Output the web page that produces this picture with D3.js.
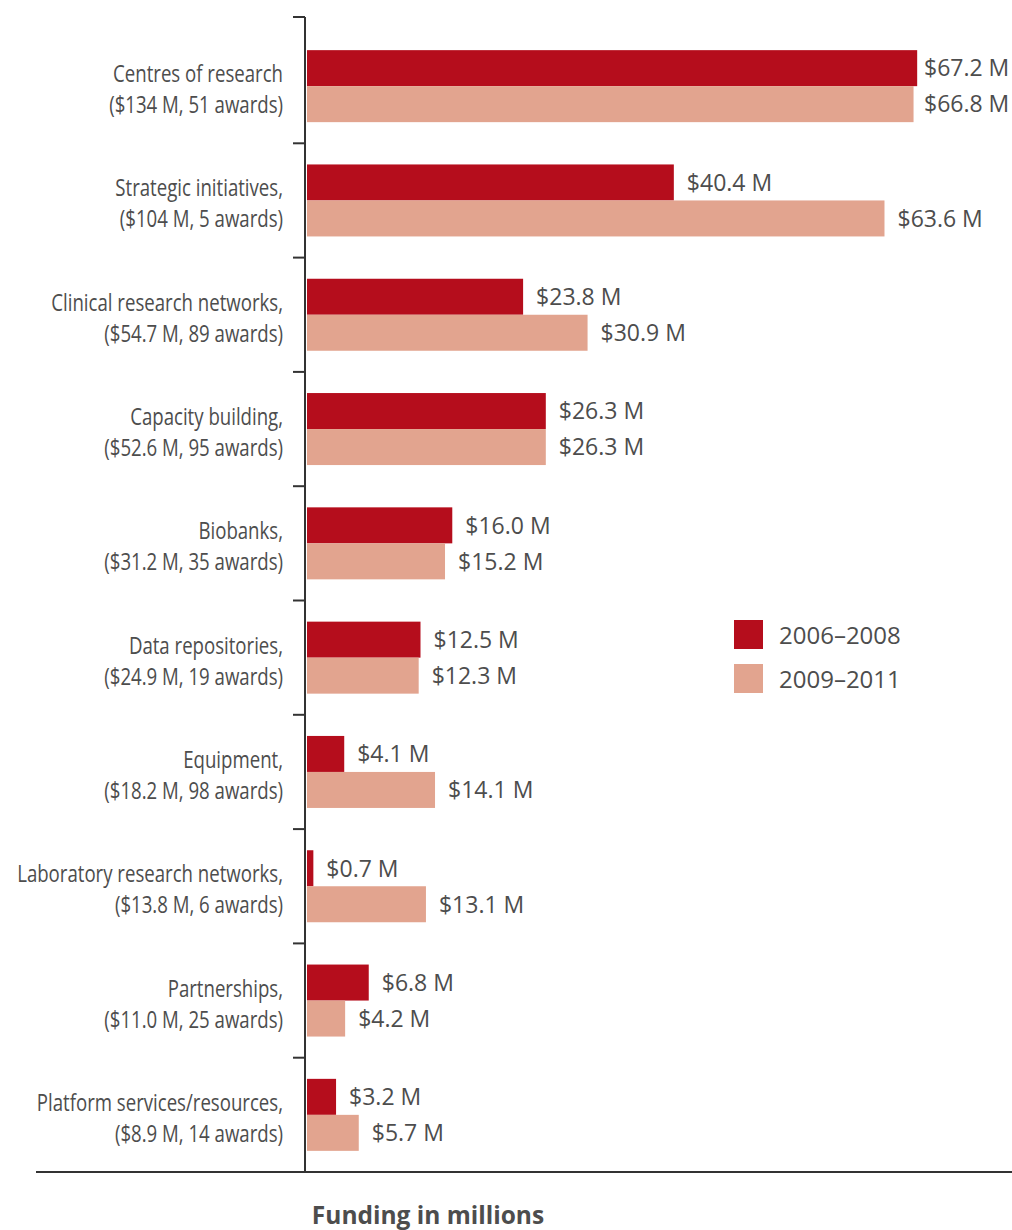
<!DOCTYPE html>
<html>
<head>
<meta charset="utf-8">
<script src="https://cdn.jsdelivr.net/npm/d3@7"></script>
<style>
  body { margin: 0; background: #fff; }
  .cat { font-family: "Open Sans", sans-serif; font-size: 23px; fill: #4d4d4d; }
  .val { font-family: "Open Sans", sans-serif; font-size: 23px; fill: #4d4d4d; }
  .leg { font-family: "Open Sans", sans-serif; font-size: 24px; fill: #4d4d4d; }
  .xtitle { font-family: "Open Sans", sans-serif; font-size: 24.5px; font-weight: bold; fill: #4d4d4d; }
</style>
</head>
<body>
<script>
var svg_Width = 1012;
var svg_Height = 1230;

// categories (two text lines each)
var categories = ["Centres of research", "Strategic initiatives,", "Clinical research networks,",
  "Capacity building,", "Biobanks,", "Data repositories,", "Equipment,",
  "Laboratory research networks,", "Partnerships,", "Platform services/resources,"];
var subLabels = ["($134 M, 51 awards)", "($104 M, 5 awards)", "($54.7 M, 89 awards)",
  "($52.6 M, 95 awards)", "($31.2 M, 35 awards)", "($24.9 M, 19 awards)", "($18.2 M, 98 awards)",
  "($13.8 M, 6 awards)", "($11.0 M, 25 awards)", "($8.9 M, 14 awards)"];

// series values, millions
var series = ["2006–2008", "2009–2011"];
var values0608 = [67.2, 40.4, 23.8, 26.3, 16.0, 12.5, 4.1, 0.7, 6.8, 3.2];
var values0911 = [66.8, 63.6, 30.9, 26.3, 15.2, 12.3, 14.1, 13.1, 4.2, 5.7];
var colors = ["#b50d1c", "#e2a48f"];

var margin = { top: 29, left: 307, bottom: 1172 };

var svg = d3.select("body")
  .append("svg")
  .attr("width", svg_Width)
  .attr("height", svg_Height);

// scales
var xScale = d3.scaleLinear()
  .domain([0, 70])
  .range([margin.left, margin.left + 70 * 9.08]);

var yScale = d3.scaleBand()
  .domain(categories)
  .range([margin.top, margin.bottom]);

var barH = 36;
var subScale = d3.scaleBand()
  .domain(series)
  .range([0, barH * 2]);

var rows = categories.map(function (c, i) {
  return { cat: c, sub: subLabels[i], vals: [values0608[i], values0911[i]] };
});

// bars
var groups = svg.selectAll("g.row")
  .data(rows)
  .enter()
  .append("g")
  .attr("class", "row")
  .attr("transform", d => `translate(0, ${yScale(d.cat) + yScale.step() / 2 - barH})`);

groups.selectAll("rect")
  .data(d => d.vals.map((v, j) => ({ v: v, s: series[j], j: j })))
  .enter()
  .append("rect")
  .attr("x", xScale(0))
  .attr("y", d => subScale(d.s))
  .attr("width", d => xScale(d.v) - xScale(0))
  .attr("height", subScale.bandwidth())
  .attr("fill", d => colors[d.j]);

// value labels
groups.selectAll("text.val")
  .data(d => d.vals.map((v, j) => ({ v: v, s: series[j] })))
  .enter()
  .append("text")
  .attr("class", "val")
  .attr("x", d => Math.min(xScale(d.v) + 13, svg_Width - 88))
  .attr("y", d => subScale(d.s) + subScale.bandwidth() / 2)
  .attr("dy", "0.36em")
  .text(d => "$" + d.v.toFixed(1) + " M");

// category labels, horizontally condensed
var labelX = 283;
var labels = svg.append("g")
  .attr("transform", `translate(${labelX}, 0) scale(0.81, 1)`)
  .selectAll("text.cat")
  .data(rows)
  .enter()
  .append("text")
  .attr("class", "cat")
  .attr("text-anchor", "end");

labels.append("tspan")
  .attr("x", 0)
  .attr("y", d => yScale(d.cat) + yScale.step() / 2 - 4)
  .text(d => d.cat);
labels.append("tspan")
  .attr("x", 0)
  .attr("y", d => yScale(d.cat) + yScale.step() / 2 + 27)
  .text(d => d.sub);

// y axis line with ticks between categories
var axisX = margin.left - 2;
svg.append("line")
  .attr("x1", axisX).attr("x2", axisX)
  .attr("y1", 17).attr("y2", margin.bottom)
  .attr("stroke", "#333").attr("stroke-width", 2);

svg.append("line")
  .attr("x1", axisX - 12).attr("x2", axisX)
  .attr("y1", 17).attr("y2", 17)
  .attr("stroke", "#333").attr("stroke-width", 2);

svg.selectAll("line.tick")
  .data(categories.slice(1))
  .enter()
  .append("line")
  .attr("class", "tick")
  .attr("x1", axisX - 12).attr("x2", axisX)
  .attr("y1", d => yScale(d)).attr("y2", d => yScale(d))
  .attr("stroke", "#333").attr("stroke-width", 2);

// x axis baseline
svg.append("line")
  .attr("x1", 36).attr("x2", svg_Width)
  .attr("y1", margin.bottom).attr("y2", margin.bottom)
  .attr("stroke", "#333").attr("stroke-width", 2);

svg.append("text")
  .attr("class", "xtitle")
  .attr("x", 428)
  .attr("y", 1224)
  .attr("text-anchor", "middle")
  .text("Funding in millions");

// legend
var legend = svg.selectAll("g.legend")
  .data(series)
  .enter()
  .append("g")
  .attr("class", "legend")
  .attr("transform", (d, i) => `translate(734, ${620 + i * 44})`);

legend.append("rect")
  .attr("width", 29)
  .attr("height", 29)
  .attr("fill", (d, i) => colors[i]);

legend.append("text")
  .attr("class", "leg")
  .attr("x", 45)
  .attr("y", 15)
  .attr("dy", "0.36em")
  .text(d => d);
</script>
</body>
</html>
